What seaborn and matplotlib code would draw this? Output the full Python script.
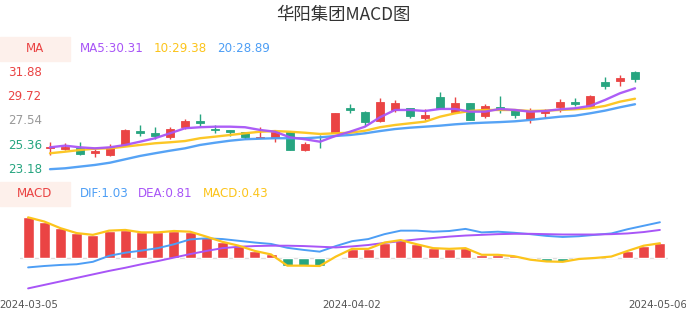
import numpy as np
import pandas as pd
import matplotlib
matplotlib.use("Agg")
import matplotlib.pyplot as plt
from matplotlib.patches import Rectangle
from matplotlib.transforms import ScaledTranslation
import seaborn as sns

dates = ["2024-03-05", "2024-03-06", "2024-03-07", "2024-03-08", "2024-03-11", "2024-03-12",
         "2024-03-13", "2024-03-14", "2024-03-15", "2024-03-18", "2024-03-19", "2024-03-20",
         "2024-03-21", "2024-03-22", "2024-03-25", "2024-03-26", "2024-03-27", "2024-03-28",
         "2024-03-29", "2024-04-01", "2024-04-02", "2024-04-03", "2024-04-08", "2024-04-09",
         "2024-04-10", "2024-04-11", "2024-04-12", "2024-04-15", "2024-04-16", "2024-04-17",
         "2024-04-18", "2024-04-19", "2024-04-22", "2024-04-23", "2024-04-24", "2024-04-25",
         "2024-04-26", "2024-04-29", "2024-04-30", "2024-05-06"]

open_ = [24.95, 24.92, 24.96, 24.52, 24.39, 25.27, 26.53, 26.35, 25.94, 26.84,
         27.43, 26.71, 26.57, 26.40, 25.84, 25.86, 26.44, 24.81, 26.00, 26.36,
         28.58, 28.23, 27.42, 28.38, 28.53, 27.64, 29.51, 28.23, 28.97, 27.87,
         28.64, 28.38, 27.55, 28.08, 28.62, 29.12, 28.74, 30.84, 30.96, 31.79]
close = [25.05, 25.05, 24.46, 24.75, 25.11, 26.60, 26.35, 26.06, 26.66, 27.43,
         27.25, 26.60, 26.45, 25.97, 25.97, 26.39, 24.81, 25.32, 25.93, 28.08,
         28.35, 27.34, 29.06, 28.97, 27.87, 27.93, 28.53, 28.97, 27.49, 28.76,
         28.38, 27.93, 28.23, 28.32, 29.12, 28.89, 29.63, 30.52, 31.26, 31.14]
high = [25.55, 25.40, 25.55, 24.88, 25.35, 26.70, 27.04, 26.84, 26.84, 27.60,
        28.02, 27.04, 26.62, 26.40, 26.90, 26.60, 26.50, 25.55, 26.15, 28.10,
        28.89, 28.29, 29.42, 29.27, 28.58, 28.47, 29.95, 29.56, 28.97, 28.89,
        29.63, 28.38, 28.53, 28.44, 29.33, 29.42, 29.72, 31.29, 31.50, 31.88]
low = [24.37, 24.81, 24.37, 24.16, 24.28, 25.20, 26.06, 25.77, 25.77, 26.71,
       26.95, 26.30, 26.04, 25.80, 25.84, 25.55, 24.80, 24.72, 25.02, 26.30,
       28.08, 26.98, 27.34, 28.17, 27.64, 27.49, 28.47, 28.08, 27.45, 27.64,
       28.08, 27.64, 27.20, 27.64, 28.23, 28.74, 28.68, 30.22, 30.52, 30.90]

ma5 = [25.05, 25.20, 25.05, 24.96, 25.05, 25.26, 25.55, 25.86, 26.30, 26.75,
       26.84, 26.89, 26.89, 26.84, 26.60, 26.44, 25.94, 25.77, 25.55, 26.05,
       26.44, 26.89, 27.73, 28.38, 28.38, 28.29, 28.47, 28.47, 28.23, 28.23,
       28.47, 28.38, 28.23, 28.29, 28.44, 28.53, 28.74, 29.27, 29.87, 30.31]
ma10 = [24.52, 24.66, 24.81, 24.93, 24.96, 25.11, 25.26, 25.41, 25.50, 25.61,
        25.86, 26.00, 26.15, 26.30, 26.44, 26.50, 26.44, 26.35, 26.24, 26.30,
        26.35, 26.53, 26.84, 27.04, 27.19, 27.34, 27.78, 28.08, 28.29, 28.38,
        28.38, 28.38, 28.29, 28.32, 28.38, 28.44, 28.53, 28.74, 29.12, 29.38]
ma20 = [23.10, 23.18, 23.33, 23.48, 23.68, 23.98, 24.28, 24.52, 24.75, 24.96,
        25.26, 25.46, 25.64, 25.77, 25.82, 25.86, 25.86, 25.86, 25.94, 26.06,
        26.15, 26.30, 26.50, 26.68, 26.80, 26.89, 26.98, 27.10, 27.19, 27.25,
        27.30, 27.37, 27.49, 27.64, 27.78, 27.87, 28.08, 28.32, 28.62, 28.89]

dif = [-0.26, -0.22, -0.19, -0.17, -0.10, 0.07, 0.16, 0.22, 0.29, 0.40,
       0.54, 0.57, 0.55, 0.50, 0.45, 0.41, 0.30, 0.24, 0.19, 0.35,
       0.49, 0.55, 0.69, 0.79, 0.79, 0.76, 0.78, 0.84, 0.74, 0.76,
       0.73, 0.69, 0.64, 0.61, 0.63, 0.67, 0.71, 0.83, 0.93, 1.03]
dea = [-0.86, -0.76, -0.66, -0.56, -0.46, -0.36, -0.27, -0.17, -0.08, 0.02,
       0.12, 0.21, 0.29, 0.33, 0.35, 0.36, 0.36, 0.35, 0.33, 0.31,
       0.34, 0.38, 0.44, 0.49, 0.54, 0.58, 0.62, 0.65, 0.67, 0.69,
       0.70, 0.70, 0.69, 0.68, 0.68, 0.68, 0.69, 0.71, 0.75, 0.81]
macd = [1.17, 1.05, 0.86, 0.72, 0.67, 0.79, 0.81, 0.74, 0.74, 0.78,
        0.76, 0.62, 0.47, 0.36, 0.21, 0.11, -0.21, -0.21, -0.22, 0.05,
        0.27, 0.27, 0.45, 0.52, 0.40, 0.29, 0.27, 0.29, 0.10, 0.10,
        0.06, -0.04, -0.09, -0.10, -0.02, 0.01, 0.05, 0.21, 0.36, 0.43]

price_ticks = [23.18, 25.36, 27.54, 29.72, 31.88]
label_dates = ["2024-03-05", "2024-04-02", "2024-05-06"]

RED = "#ea4444"
GREEN = "#27a580"
PURPLE = "#a855f7"
YELLOW = "#fcc41b"
BLUE = "#4d9ef5"

sns.set_style("white")
plt.rcParams["font.family"] = ["DejaVu Sans"]

W, H = 686, 320
fig = plt.figure(figsize=(W / 100, H / 100), dpi=100)


def rect(l, t, r, b):
    return [l / W, 1 - b / H, (r - l) / W, (b - t) / H]


df = pd.DataFrame({"date": dates, "open": open_, "close": close, "high": high, "low": low,
                   "ma5": ma5, "ma10": ma10, "ma20": ma20,
                   "dif": dif, "dea": dea, "macd": macd})
df["i"] = np.arange(len(df))
df["up"] = df["close"] >= df["open"]

# ---------------- price panel ----------------
ax1 = fig.add_axes(rect(42.5, 60, 642.5, 176))
scale = (168.3 - 70.7) / (31.88 - 23.18)
ax1.set_xlim(-0.5, len(df) - 0.5)
ax1.set_ylim(23.18 - (176 - 168.3) / scale, 31.88 + (70.7 - 60) / scale)

cols = [RED if u else GREEN for u in df["up"]]
ax1.vlines(df["i"], df["low"], df["high"], colors=cols, lw=1.0, zorder=2)
body_bottom = np.minimum(df["open"], df["close"])
body_h = np.abs(df["close"] - df["open"])
ax1.bar(df["i"], body_h, bottom=body_bottom, width=0.56, color=cols,
        edgecolor=cols, linewidth=0.6, zorder=3)

for col, c in [("ma20", BLUE), ("ma10", YELLOW), ("ma5", PURPLE)]:
    sns.lineplot(data=df, x="i", y=col, color=c, lw=1.7, ax=ax1, zorder=4, alpha=0.95)

ax1.set_yticks(price_ticks)
ax1.set_yticklabels([f"{v:.2f}" for v in price_ticks])
tick_cols = [GREEN, GREEN, "#999999", RED, RED]
for lab, c in zip(ax1.get_yticklabels(), tick_cols):
    lab.set_color(c)
ax1.tick_params(axis="y", length=0, pad=0.5, labelsize=8.6)
ax1.set_xticks([])
ax1.set_xlabel("")
ax1.set_ylabel("")
for s in ax1.spines.values():
    s.set_visible(False)
ax1.patch.set_alpha(0)

# ---------------- MACD panel ----------------
ax2 = fig.add_axes(rect(20, 210, 668, 292))
df["sign"] = np.where(df["macd"] >= 0, "pos", "neg")
sns.barplot(data=df, x="i", y="macd", hue="sign", palette={"pos": RED, "neg": GREEN},
            dodge=False, width=0.68, saturation=1, errorbar=None, legend=False,
            ax=ax2, zorder=2)
ax2.axhline(0, color="#dddddd", lw=1, zorder=1)
sns.lineplot(data=df, x="i", y="dif", color=BLUE, lw=1.4, ax=ax2, zorder=4)
sns.lineplot(data=df, x="i", y="dea", color=PURPLE, lw=1.4, ax=ax2, zorder=4)
sns.lineplot(data=df, x="i", y="macd", color=YELLOW, lw=1.6, ax=ax2, zorder=5)
ax2.set_xlim(-0.5, len(df) - 0.5)
ax2.set_ylim(-(292 - 258.3) / 35, (258.3 - 210) / 35)
tick_idx = [dates.index(d) for d in label_dates]
ax2.set_xticks(tick_idx)
ax2.set_xticklabels(label_dates)
ax2.tick_params(axis="x", length=0, pad=6, labelsize=7.4, labelcolor="#555555")
xlabs = ax2.get_xticklabels()
xlabs[0].set_horizontalalignment("left")
xlabs[0].set_transform(xlabs[0].get_transform() + ScaledTranslation(-28.5 / 100, 0, fig.dpi_scale_trans))
xlabs[-1].set_horizontalalignment("right")
xlabs[-1].set_transform(xlabs[-1].get_transform() + ScaledTranslation(27.5 / 100, 0, fig.dpi_scale_trans))
ax2.set_yticks([])
ax2.set_xlabel("")
ax2.set_ylabel("")
for s in ax2.spines.values():
    s.set_visible(False)
ax2.patch.set_alpha(0)

# ---------------- titles and legends ----------------
fig.text(343 / W, 1 - 14.7 / H, "华阳集团MACD图", ha="center", va="center",
         fontsize=12.5, color="#333333", family=["Noto Sans CJK SC", "DejaVu Sans"])

for top, name in [(36.7, "MA"), (181.7, "MACD")]:
    fig.patches.append(Rectangle((0, 1 - (top + 24) / H), 70 / W, 24 / H,
                                 transform=fig.transFigure, color="#fdf0eb", zorder=0))
    fig.text(35 / W, 1 - (top + 12) / H, name, ha="center", va="center",
             fontsize=8.6, color=RED)

legend1 = [(80, f"MA5:{ma5[-1]:.2f}", PURPLE), (154, f"10:{ma10[-1]:.2f}", YELLOW),
           (216.7, f"20:{ma20[-1]:.2f}", BLUE)]
for x, t, c in legend1:
    fig.text(x / W, 1 - 48.7 / H, t, ha="left", va="center", fontsize=8.6, color=c)

legend2 = [(80, f"DIF:{dif[-1]:.2f}", BLUE), (138, f"DEA:{dea[-1]:.2f}", PURPLE),
           (203, f"MACD:{macd[-1]:.2f}", YELLOW)]
for x, t, c in legend2:
    fig.text(x / W, 1 - 193.7 / H, t, ha="left", va="center", fontsize=8.6, color=c)

fig.savefig("out.png", dpi=100)
